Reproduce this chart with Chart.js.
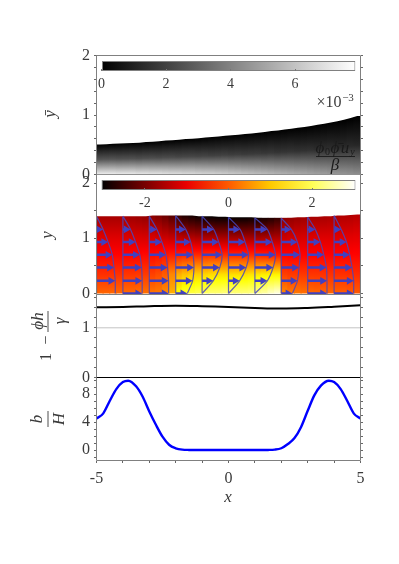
<!DOCTYPE html>
<html>
<head>
<meta charset="utf-8">
<title>Film profile</title>
<script src="https://cdn.jsdelivr.net/npm/chart.js@4/dist/chart.umd.min.js"></script>
<style>
html, body { margin: 0; padding: 0; background: #fff; }
canvas { position: absolute; left: 0; top: 0; }
</style>
</head>
<body>
<canvas id="c1" width="399" height="564"></canvas>
<canvas id="c2" width="399" height="564"></canvas>
<canvas id="c3" width="399" height="564"></canvas>
<canvas id="c4" width="399" height="564"></canvas>
<script>
// column centres of both colour fields
const columns = [
    -4.875, -4.625, -4.375, -4.125, -3.875, -3.625, -3.375, -3.125, -2.875, -2.625,
    -2.375, -2.125, -1.875, -1.625, -1.375, -1.125, -0.875, -0.625, -0.375, -0.125,
    0.125, 0.375, 0.625, 0.875, 1.125, 1.375, 1.625, 1.875, 2.125, 2.375,
    2.625, 2.875, 3.125, 3.375, 3.625, 3.875, 4.125, 4.375, 4.625, 4.875
];

// top panel: layer height, and field value at the bed and half way up (top is 0)
const topHeight = [
    0.505, 0.51, 0.515, 0.52, 0.525, 0.53, 0.535, 0.545, 0.55, 0.56,
    0.57, 0.575, 0.585, 0.595, 0.60, 0.61, 0.62, 0.63, 0.64, 0.65,
    0.66, 0.67, 0.68, 0.69, 0.70, 0.715, 0.73, 0.74, 0.755, 0.77,
    0.785, 0.80, 0.815, 0.835, 0.855, 0.875, 0.895, 0.92, 0.95, 0.985
];
const topBed = [
    7.4, 7.4, 7.4, 7.3, 7.3, 7.3, 7.2, 7.2, 7.1, 7.1,
    7.0, 6.9, 6.9, 6.8, 6.8, 6.7, 6.6, 6.6, 6.5, 6.4,
    6.3, 6.2, 6.1, 6.0, 5.9, 5.8, 5.7, 5.6, 5.5, 5.4,
    5.3, 5.2, 5.1, 5.0, 4.9, 4.8, 4.7, 4.6, 4.5, 4.4
];
const topMid = [
    2.6, 2.6, 2.6, 2.5, 2.5, 2.5, 2.4, 2.4, 2.4, 2.3,
    2.3, 2.3, 2.2, 2.2, 2.2, 2.1, 2.1, 2.0, 2.0, 2.0,
    1.9, 1.9, 1.8, 1.8, 1.8, 1.7, 1.7, 1.6, 1.6, 1.6,
    1.5, 1.5, 1.5, 1.4, 1.4, 1.4, 1.3, 1.3, 1.3, 1.2
];

// middle panel: height of the film and field value at 0, 1/4, 1/2, 3/4, 1 of it
const midHeight = [
    1.40, 1.40, 1.40, 1.40, 1.40, 1.40, 1.40, 1.40, 1.41, 1.41,
    1.41, 1.41, 1.41, 1.41, 1.41, 1.40, 1.40, 1.40, 1.39, 1.39,
    1.38, 1.38, 1.38, 1.38, 1.37, 1.37, 1.37, 1.37, 1.37, 1.37,
    1.38, 1.38, 1.39, 1.39, 1.40, 1.40, 1.41, 1.41, 1.42, 1.43
];
const midRow0 = [
    0.10, 0.10, 0.12, 0.12, 0.15, 0.15, 0.18, 0.20, 0.25, 0.30,
    0.45, 0.78, 1.60, 1.80, 1.90, 2.00, 2.10, 2.20, 2.20, 2.25,
    2.25, 2.25, 2.25, 2.30, 2.40, 2.50, 2.70, 2.85, 0.45, 0.30,
    0.25, 0.20, 0.15, 0.12, 0.10, 0.10, 0.05, 0.05, 0.02, 0.00
];
const midRow1 = [
    -0.40, -0.40, -0.38, -0.38, -0.35, -0.35, -0.32, -0.30, -0.25, -0.15,
    0.00, 0.40, 0.75, 0.90, 1.00, 1.05, 1.10, 1.15, 1.20, 1.20,
    1.20, 1.20, 1.20, 1.25, 1.30, 1.35, 1.40, 1.40, -0.25, -0.30,
    -0.30, -0.32, -0.35, -0.35, -0.38, -0.38, -0.40, -0.40, -0.42, -0.45
];
const midRow2 = [
    -0.80, -0.80, -0.80, -0.80, -0.80, -0.78, -0.78, -0.75, -0.72, -0.68,
    -0.62, -0.58, -0.55, -0.50, -0.48, -0.45, -0.42, -0.40, -0.40, -0.40,
    -0.40, -0.40, -0.40, -0.40, -0.42, -0.45, -0.50, -0.55, -0.78, -0.80,
    -0.80, -0.80, -0.80, -0.80, -0.80, -0.80, -0.80, -0.80, -0.80, -0.80
];
const midRow3 = [
    -1.15, -1.15, -1.15, -1.15, -1.18, -1.20, -1.20, -1.22, -1.25, -1.30,
    -1.38, -1.45, -1.55, -1.60, -1.65, -1.68, -1.70, -1.70, -1.70, -1.70,
    -1.70, -1.70, -1.70, -1.70, -1.68, -1.65, -1.60, -1.58, -1.30, -1.25,
    -1.22, -1.20, -1.18, -1.15, -1.15, -1.15, -1.15, -1.12, -1.12, -1.10
];
const midRow4 = [
    -1.60, -1.60, -1.60, -1.60, -1.62, -1.65, -1.70, -1.75, -1.85, -1.95,
    -2.10, -2.30, -2.60, -2.75, -2.85, -2.90, -2.95, -3.00, -3.00, -3.00,
    -3.00, -3.00, -3.00, -2.95, -2.90, -2.85, -2.75, -2.60, -1.80, -1.75,
    -1.70, -1.65, -1.60, -1.60, -1.58, -1.55, -1.55, -1.50, -1.50, -1.45
];

// velocity profiles: one row of u per station, bed upwards, at arrowLevels
const stations = [-5, -4, -3, -2, -1, 0, 1, 2, 3, 4, 5];
const arrowLevels = [0, 0.23, 0.47, 0.70, 0.93, 1.16];
const stationTop = [1.40, 1.40, 1.40, 1.41, 1.40, 1.38, 1.37, 1.365, 1.385, 1.41, 1.43];
const profiles = [
    [0.71, 0.71, 0.66, 0.60, 0.44, 0.25],
    [0.73, 0.73, 0.71, 0.64, 0.48, 0.29],
    [0.73, 0.73, 0.69, 0.63, 0.48, 0.29],
    [0.44, 0.64, 0.69, 0.66, 0.57, 0.38],
    [0.00, 0.42, 0.67, 0.76, 0.63, 0.44],
    [0.00, 0.42, 0.67, 0.76, 0.63, 0.44],
    [0.00, 0.47, 0.69, 0.78, 0.66, 0.47],
    [0.42, 0.61, 0.67, 0.71, 0.61, 0.38],
    [0.73, 0.73, 0.71, 0.61, 0.48, 0.29],
    [0.74, 0.74, 0.68, 0.59, 0.47, 0.27],
    [0.74, 0.74, 0.68, 0.59, 0.47, 0.27]
];

// third panel
const lineX = [-5, -4, -3, -2, -1, 0, 1, 2, 3, 4, 5];
const lineY = [1.414, 1.42, 1.435, 1.443, 1.435, 1.42, 1.40, 1.388, 1.40, 1.425, 1.455];

// bottom panel
const bedX = [
    -5, -4.75, -4.5, -4.25, -4, -3.8, -3.5, -3.25, -3, -2.75, -2.5, -2.25, -2, -1.75, -1.5,
    -1, 0, 1, 1.5, 1.75, 2, 2.25, 2.5, 2.75, 3, 3.25, 3.5, 3.8, 4, 4.25, 4.5, 4.75, 5
];
const bedY = [
    4.5, 5.2, 7.0, 8.7, 9.7, 9.9, 9.1, 7.6, 5.5, 3.6, 1.9, 0.75, 0.25, 0.05, 0.01,
    0, 0, 0, 0.01, 0.05, 0.25, 0.85, 1.7, 3.3, 5.6, 7.8, 9.2, 9.9, 9.7, 8.7, 7.0, 5.2, 4.5
];

// ticks
const xTicks = [-5, -4, -3, -2, -1, 0, 1, 2, 3, 4, 5];
const xLabels = [-5, 0, 5];
const ticks1 = [0, 0.2, 0.4, 0.6, 0.8, 1, 1.2, 1.4, 1.6, 1.8, 2];
const labels1 = [0, 1, 2];
const ticks2 = [0, 0.5, 1, 1.5, 2];
const labels2 = [0, 1, 2];
const ticks3 = [0, 0.2, 0.4, 0.6, 0.8, 1, 1.2, 1.4, 1.6];
const labels3 = [0, 1];
const ticks4 = [-1, 0, 1, 2, 3, 4, 5, 6, 7, 8, 9, 10];
const labels4 = [0, 4, 8];
const barTicks1 = [0, 2, 4, 6];
const barTicks2 = [-2, 0, 2];

const grayStops = [[0, [0, 0, 0]], [1, [255, 255, 255]]];
const hotStops = [[0, [0, 0, 0]], [0.365, [255, 0, 0]], [0.746, [255, 255, 0]], [1, [255, 255, 255]]];
const GRAY_MAX = 7.87, HOT_MAX = 3.04;

const AXIS = '#808080', TEXT = '#3a3a3a', SERIF = '"Liberation Serif", "DejaVu Serif", serif';
const ARROW = 'rgb(64, 64, 192)';
const LEFT = 96.5, RIGHT = 38.5;
const HEAD = 0.17; // arrow head length in x units, the shaft stops short of the tip by this

function mapColor(stops, t) {
    t = Math.min(1, Math.max(0, t));
    for (let i = 1; i < stops.length; i++) {
        if (t <= stops[i][0]) {
            const k = (t - stops[i - 1][0]) / (stops[i][0] - stops[i - 1][0]);
            const a = stops[i - 1][1], b = stops[i][1];
            return 'rgb(' + a.map((v, j) => Math.round(v + (b[j] - v) * k)).join(',') + ')';
        }
    }
    return '#fff';
}
const grayColor = v => mapColor(grayStops, v / GRAY_MAX);
const hotColor = v => mapColor(hotStops, (v + HOT_MAX) / (2 * HOT_MAX));

// linear gradient between two pixels, values evenly spaced along it
function ramp(ctx, x0, y0, x1, y1, values, colorFn) {
    const g = ctx.createLinearGradient(x0, y0, x1, y1);
    const n = values.length - 1;
    for (let i = 0; i < n; i++) {
        for (let s = 0; s < 6; s++) {
            g.addColorStop((i + s / 6) / n, colorFn(values[i] + (values[i + 1] - values[i]) * s / 6));
        }
    }
    g.addColorStop(1, colorFn(values[n]));
    return g;
}

// columns reach a little past the surface, whiteAbove trims them to a smooth edge
function fieldBars(heights, rowsOf, colorFn) {
    return {
        type: 'bar',
        order: 5,
        grouped: false,
        barPercentage: 1,
        categoryPercentage: 1,
        inflateAmount: 0.6,
        borderWidth: 0,
        data: columns.map((x, i) => ({ x: x, y: Math.max(heights[i], heights[i + 1] || 0, heights[i - 1] || 0) })),
        backgroundColor(c) {
            if (!c.chart.chartArea || c.dataIndex === undefined) return '#000';
            const sy = c.chart.scales.y;
            return ramp(c.chart.ctx, 0, sy.getPixelForValue(0), 0, sy.getPixelForValue(heights[c.dataIndex]), rowsOf(c.dataIndex), colorFn);
        }
    };
}

function whiteAbove(heights) {
    const pts = columns.map((x, i) => ({ x: x, y: heights[i] }));
    pts.unshift({ x: -5, y: heights[0] });
    pts.push({ x: 5, y: heights[heights.length - 1] });
    return {
        type: 'line',
        order: 4,
        data: pts,
        fill: 'end',
        backgroundColor: '#fff',
        borderWidth: 0,
        pointRadius: 0
    };
}

function colorBar(lo, hi, yPos, values, colorFn) {
    return {
        type: 'bar',
        indexAxis: 'y',
        xAxisID: 'cb',
        order: 0,
        grouped: false,
        barThickness: 10,
        borderWidth: 1,
        borderColor: AXIS,
        borderSkipped: false,
        inflateAmount: 0,
        data: [{ x: [lo, hi], y: yPos }],
        backgroundColor(c) {
            if (!c.chart.chartArea) return '#000';
            const sx = c.chart.scales.cb;
            return ramp(c.chart.ctx, sx.getPixelForValue(lo), 0, sx.getPixelForValue(hi), 0, values, colorFn);
        }
    };
}

function yAxis(position, min, max, tickVals, labelVals) {
    return {
        type: 'linear',
        position: position,
        min: min,
        max: max,
        offset: false,
        afterBuildTicks(s) { s.ticks = tickVals.map(v => ({ value: v })); },
        afterFit(s) { s.width = position === 'left' ? LEFT : RIGHT; },
        grid: { drawOnChartArea: false, tickLength: 2.5, tickColor: '#666', offset: false },
        border: { display: false },
        ticks: {
            display: position === 'left',
            autoSkip: false,
            padding: 4,
            color: TEXT,
            font: { family: SERIF, size: 16 },
            callback: v => labelVals.includes(v) ? String(v) : ''
        }
    };
}

function hiddenX(bottom) {
    return {
        type: 'linear',
        min: -5,
        max: 5,
        offset: false,
        afterBuildTicks(s) { s.ticks = []; },
        afterFit(s) { s.height = 564 - bottom; },
        grid: { display: false, offset: false },
        border: { display: false },
        ticks: { display: false }
    };
}

function barAxis(min, max, yPos, tickVals) {
    return {
        type: 'linear',
        axis: 'x',
        min: min,
        max: max,
        offset: false,
        position: { y: yPos },
        afterBuildTicks(s) { s.ticks = tickVals.map(v => ({ value: v })); },
        afterFit(s) { s.height = 0; },
        grid: { drawOnChartArea: false, tickLength: -2, tickColor: '#777', offset: false, z: 1 },
        border: { display: false },
        ticks: {
            autoSkip: false,
            maxRotation: 0,
            padding: 7,
            z: 1,
            color: TEXT,
            font: { family: SERIF, size: 14 },
            callback: v => String(v)
        }
    };
}

// frame round the axes and the hand placed math labels
const panelDecor = {
    id: 'panelDecor',
    afterDraw(chart, args, opts) {
        const { ctx, chartArea: a } = chart;
        ctx.save();
        ctx.strokeStyle = AXIS;
        ctx.lineWidth = 1;
        ctx.beginPath();
        const sides = opts.sides || '';
        if (sides.includes('t')) { ctx.moveTo(a.left, a.top); ctx.lineTo(a.right, a.top); }
        if (sides.includes('b')) { ctx.moveTo(a.left, a.bottom); ctx.lineTo(a.right, a.bottom); }
        if (sides.includes('l')) { ctx.moveTo(a.left, a.top); ctx.lineTo(a.left, a.bottom); }
        if (sides.includes('r')) { ctx.moveTo(a.right, a.top); ctx.lineTo(a.right, a.bottom); }
        ctx.stroke();
        ctx.fillStyle = TEXT;
        ctx.textAlign = 'center';
        ctx.textBaseline = 'middle';
        (opts.texts || []).forEach(t => {
            ctx.save();
            ctx.translate(t.x, t.y);
            if (t.rot) ctx.rotate(t.rot);
            ctx.fillStyle = t.color || TEXT;
            ctx.font = (t.font || 'italic 17px') + ' ' + SERIF;
            ctx.fillText(t.s, 0, 0);
            ctx.restore();
        });
        (opts.rules || []).forEach(r => {
            ctx.strokeStyle = r[4] || TEXT;
            ctx.lineWidth = 0.9;
            ctx.beginPath();
            ctx.moveTo(r[0], r[1]);
            ctx.lineTo(r[2], r[3]);
            ctx.stroke();
        });
        ctx.restore();
    }
};

function panel(id, top, datasets, scales, decor) {
    return new Chart(document.getElementById(id), {
        type: 'bar',
        data: { datasets: datasets },
        options: {
            responsive: false,
            animation: false,
            events: [],
            layout: { padding: { left: 0, right: 0, top: top, bottom: 0 } },
            scales: scales,
            plugins: { legend: { display: false }, tooltip: { enabled: false }, panelDecor: decor }
        },
        plugins: [panelDecor]
    });
}

// profile outlines and arrows from the station tables
const outlinePoints = [], arrowPoints = [];
stations.forEach((st, s) => {
    outlinePoints.push({ x: st, y: 0 }, { x: st, y: stationTop[s] }, { x: null, y: null });
    arrowLevels.forEach((lv, l) => {
        outlinePoints.push({ x: st + profiles[s][l], y: lv });
        // the first station has no arrow on the bed
        if (profiles[s][l] > 0 && !(s === 0 && l === 0)) {
            arrowPoints.push({ x: st, y: lv }, { x: st + profiles[s][l] - HEAD, y: lv }, { x: null, y: null });
        }
    });
    outlinePoints.push({ x: st, y: stationTop[s] }, { x: null, y: null });
});

// top panel
panel('c1', 55.5, [
    colorBar(0, GRAY_MAX, 1.823, [0, GRAY_MAX], grayColor),
    whiteAbove(topHeight),
    fieldBars(topHeight, i => [topBed[i], topMid[i], 0], grayColor)
], {
    x: hiddenX(174.5),
    y: yAxis('left', 0, 2, ticks1, labels1),
    yr: yAxis('right', 0, 2, ticks1, labels1),
    cb: barAxis(-0.155, 8.03, 1.733, barTicks1)
}, {
    sides: 'tblr',
    texts: [
        { s: 'y\u0304', x: 51, y: 114, rot: -Math.PI / 2 },
        { s: '\u00d710', x: 329, y: 103, font: '16px' },
        { s: '\u22123', x: 348, y: 98, font: '11px' },
        { s: '\u03d5', x: 320, y: 149, color: '#1a1a1a' },
        { s: '0', x: 327.5, y: 152.5, font: '10px', color: '#1a1a1a' },
        { s: '\u03d5\u0304', x: 335, y: 149, color: '#1a1a1a' },
        { s: 'u', x: 345, y: 149, color: '#1a1a1a' },
        { s: 'y', x: 352.5, y: 152.5, font: 'italic 10px', color: '#1a1a1a' },
        { s: '\u03b2', x: 335, y: 166, color: '#1a1a1a' }
    ],
    rules: [[316, 156.5, 355, 156.5, '#1a1a1a']]
});

// middle panel
panel('c2', 174.5, [
    colorBar(-HOT_MAX, HOT_MAX, 1.964, [-HOT_MAX, HOT_MAX], hotColor),
    {
        type: 'line',
        order: 2,
        data: outlinePoints,
        borderColor: 'rgba(70, 70, 190, 0.85)',
        borderWidth: 1.2,
        tension: 0.25,
        pointRadius: 0,
        spanGaps: false
    },
    {
        type: 'line',
        order: 1,
        data: arrowPoints,
        borderColor: ARROW,
        backgroundColor: ARROW,
        borderWidth: 2.5,
        pointBorderWidth: 0,
        pointStyle: 'triangle',
        pointRotation: 90,
        pointBackgroundColor: ARROW,
        pointRadius: c => (c.dataIndex % 3 === 1 ? 4.5 : 0),
        spanGaps: false
    },
    whiteAbove(midHeight),
    fieldBars(midHeight, i => [midRow0[i], midRow1[i], midRow2[i], midRow3[i], midRow4[i]], hotColor)
], {
    x: hiddenX(294.5),
    y: yAxis('left', -0.018, 2.154, ticks2, labels2),
    yr: yAxis('right', -0.018, 2.154, ticks2, labels2),
    cb: barAxis(-3.16, 3.16, 1.873, barTicks2)
}, {
    sides: 'blr',
    texts: [{ s: 'y', x: 48, y: 235, rot: -Math.PI / 2 }]
});

// third panel
panel('c3', 294.5, [
    { type: 'line', order: 3, data: [{ x: -5, y: 1 }, { x: 5, y: 1 }], borderColor: '#c4c4c4', borderWidth: 1, pointRadius: 0 },
    { type: 'line', order: 2, data: [{ x: -5, y: 0 }, { x: 5, y: 0 }], borderColor: '#000', borderWidth: 1, pointRadius: 0, clip: 2 },
    { type: 'line', order: 1, data: lineX.map((x, i) => ({ x: x, y: lineY[i] })), borderColor: '#000', borderWidth: 2, tension: 0.4, pointRadius: 0 }
], {
    x: hiddenX(377.5),
    y: yAxis('left', 0, 1.67, ticks3, labels3),
    yr: yAxis('right', 0, 1.67, ticks3, labels3)
}, {
    sides: 'lr',
    texts: [
        { s: '1', x: 47, y: 357, rot: -Math.PI / 2, font: '16px' },
        { s: '\u2212', x: 47, y: 340, rot: -Math.PI / 2, font: '16px' },
        { s: '\u03d5h', x: 39, y: 321, rot: -Math.PI / 2 },
        { s: '\u03b3', x: 61, y: 321, rot: -Math.PI / 2 }
    ],
    rules: [[48, 311, 48, 332]]
});

// bottom panel
panel('c4', 377.5, [
    {
        type: 'line',
        data: bedX.map((x, i) => ({ x: x, y: bedY[i] })),
        borderColor: '#0000ff',
        borderWidth: 2.4,
        cubicInterpolationMode: 'monotone',
        pointRadius: 0
    }
], {
    x: {
        type: 'linear',
        min: -5,
        max: 5,
        offset: false,
        afterBuildTicks(s) { s.ticks = xTicks.map(v => ({ value: v })); },
        afterFit(s) { s.height = 564 - 460.5; },
        grid: { drawOnChartArea: false, tickLength: 2.5, tickColor: '#666', offset: false },
        border: { display: false },
        ticks: {
            autoSkip: false,
            maxRotation: 0,
            padding: 6,
            color: TEXT,
            font: { family: SERIF, size: 16 },
            callback: v => xLabels.includes(v) ? String(v) : ''
        }
    },
    y: yAxis('left', -1.5, 10.36, ticks4, labels4),
    yr: yAxis('right', -1.5, 10.36, ticks4, labels4)
}, {
    sides: 'blr',
    texts: [
        { s: 'x', x: 228, y: 498 },
        { s: 'b', x: 38, y: 419, rot: -Math.PI / 2 },
        { s: 'H', x: 60, y: 419, rot: -Math.PI / 2 }
    ],
    rules: [[48, 411, 48, 427]]
});
</script>
</body>
</html>
